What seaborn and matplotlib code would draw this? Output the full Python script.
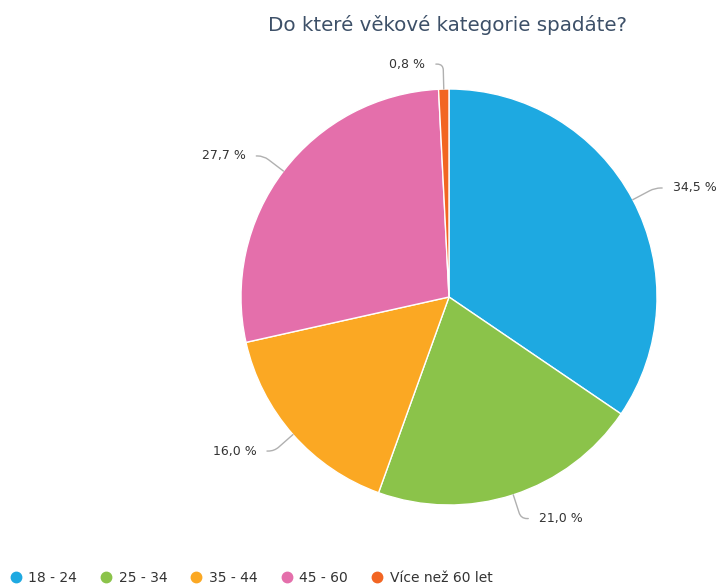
"""Pie chart: age categories of respondents ("Do které věkové kategorie spadáte?")."""

import matplotlib

matplotlib.use("Agg")
import matplotlib.pyplot as plt
import numpy as np
import seaborn as sns
from matplotlib.lines import Line2D

CATEGORIES = ["18 - 24", "25 - 34", "35 - 44", "45 - 60", "Více než 60 let"]
SHARES = [34.5, 21.0, 16.0, 27.7, 0.8]
LABELS = ["34,5 %", "21,0 %", "16,0 %", "27,7 %", "0,8 %"]
COLORS = ["#1ea9e1", "#8bc34a", "#fba823", "#e46fab", "#f26522"]

TITLE = "Do které věkové kategorie spadáte?"
TITLE_COLOR = "#3d5068"
TEXT_COLOR = "#333333"
LINE_COLOR = "#b0b0b0"

sns.set_theme(style="white")
plt.rcParams["font.family"] = ["DejaVu Sans"]

W, H = 720, 587
fig = plt.figure(figsize=(W / 100, H / 100), dpi=100)
fig.patch.set_facecolor("white")

# pie centre (449, 297) px, radius 208 px
cx, cy, r = 449, 297, 208
ax = fig.add_axes([(cx - r) / W, 1 - (cy + r) / H, 2 * r / W, 2 * r / H])

wedges, _ = ax.pie(
    SHARES, colors=COLORS, startangle=90, counterclock=False, radius=1.0,
    wedgeprops=dict(edgecolor="white", linewidth=1.0),
)
ax.set_xlim(-1, 1)
ax.set_ylim(-1, 1)
ax.set_aspect("equal")
ax.axis("off")

for w, lab in zip(wedges, LABELS):
    theta = (w.theta1 + w.theta2) / 2
    t = np.deg2rad(theta)
    side = 1 if np.cos(t) >= 0 else -1
    edge = (np.cos(t), np.sin(t))
    knee = (1.12 * np.cos(t), 1.12 * np.sin(t))
    end = (knee[0] + side * 0.035, knee[1])
    ax.annotate(
        "", xy=edge, xytext=end, annotation_clip=False,
        arrowprops=dict(arrowstyle="-", color=LINE_COLOR, lw=1.0, shrinkA=0, shrinkB=0,
                        connectionstyle=f"angle,angleA=0,angleB={theta},rad=6"),
    )
    ax.text(end[0] + side * 0.05, end[1], lab, ha="left" if side > 0 else "right",
            va="center", fontsize=9, color=TEXT_COLOR, clip_on=False)

fig.text(448 / W, 1 - 25 / H, TITLE, ha="center", va="center", fontsize=14.3,
         color=TITLE_COLOR)

handles = [Line2D([], [], marker="o", linestyle="", markersize=7.5, color=c)
           for c in COLORS]
fig.legend(handles, CATEGORIES, loc="center left", bbox_to_anchor=(0.01, 1 - 578 / H),
           ncol=5, frameon=False, fontsize=10, handlelength=0.8, handletextpad=0.5,
           columnspacing=1.7, borderaxespad=0, borderpad=0.2,
           labelcolor=TEXT_COLOR)

fig.savefig("out.png", dpi=100, facecolor="white")
